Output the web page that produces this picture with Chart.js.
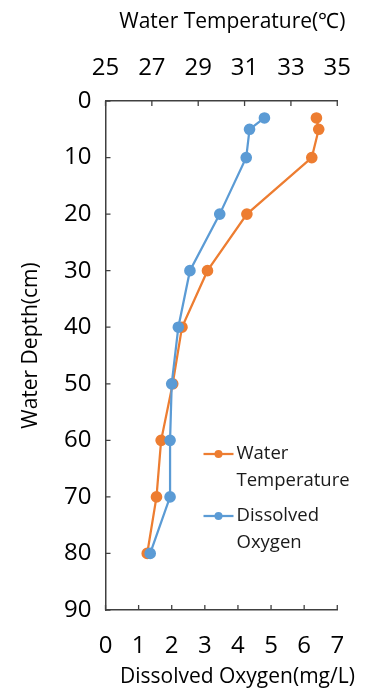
<!DOCTYPE html>
<html>
<head>
<meta charset="utf-8">
<script src="https://cdn.jsdelivr.net/npm/chart.js@4"></script>
<style>
  body { margin: 0; background: #fff; }
  canvas { display: block; }
</style>
</head>
<body>
<canvas id="chart1" width="369" height="688"></canvas>
<script>
// depths (cm) where samples were taken
let depths = [3, 5, 10, 20, 30, 40, 50, 60, 70, 80];
let waterTemp = [34.1, 34.2, 33.9, 31.1, 29.4, 28.3, 27.9, 27.4, 27.2, 26.8];
let dissolvedO2 = [4.8, 4.35, 4.25, 3.45, 2.55, 2.2, 2.0, 1.95, 1.95, 1.35];

let tempTicks = [25, 27, 29, 31, 33, 35];
let doTicks = [0, 1, 2, 3, 4, 5, 6, 7];
let depthTicks = [0, 10, 20, 30, 40, 50, 60, 70, 80, 90];

let topTitle = 'Water Temperature(℃)';
let bottomTitle = 'Dissolved Oxygen(mg/L)';
let leftTitle = 'Water Depth(cm)';

let orange = '#ED7D31';
let blue = '#5B9BD5';
let axisColor = '#404040';
let font = 'Open Sans';

function pairs(xs) {
    return xs.map(function(v, i) { return { x: v, y: depths[i] }; });
}

// tick marks point into the plot area
var innerTicks = {
    id: 'innerTicks',
    afterDraw: function(chart) {
        var ctx = chart.ctx;
        var a = chart.chartArea;
        var len = 5;
        ctx.save();
        ctx.strokeStyle = axisColor;
        ctx.lineWidth = 1.3;
        ctx.beginPath();
        depthTicks.forEach(function(v) {
            var y = chart.scales.y.getPixelForValue(v);
            ctx.moveTo(a.left, y);
            ctx.lineTo(a.left + len, y);
        });
        tempTicks.forEach(function(v) {
            var x = chart.scales.xT.getPixelForValue(v);
            ctx.moveTo(x, a.top);
            ctx.lineTo(x, a.top + len);
        });
        doTicks.forEach(function(v) {
            var x = chart.scales.xB.getPixelForValue(v);
            ctx.moveTo(x, a.bottom);
            ctx.lineTo(x, a.bottom - len);
        });
        ctx.stroke();
        ctx.restore();
    }
};

// axis titles, placed a bit off centre like the excel original
var axisTitles = {
    id: 'axisTitles',
    afterDraw: function(chart) {
        var ctx = chart.ctx;
        var a = chart.chartArea;
        var mid = (a.left + a.right) / 2;
        ctx.save();
        ctx.font = '21px "' + font + '"';
        ctx.fillStyle = '#000';
        ctx.textAlign = 'center';
        ctx.textBaseline = 'alphabetic';
        ctx.fillText(topTitle, mid + 11, 28);
        ctx.fillText(bottomTitle, mid + 16, 683);
        ctx.translate(37, (a.top + a.bottom) / 2 - 10);
        ctx.rotate(-Math.PI / 2);
        ctx.fillText(leftTitle, 0, 0);
        ctx.restore();
    }
};

// legend inside the plot, labels wrapped on two lines
var boxLegend = {
    id: 'boxLegend',
    afterDraw: function(chart) {
        var ctx = chart.ctx;
        var a = chart.chartArea;
        var x0 = a.left + 98;
        var y0 = a.top + 353;
        var rowGap = 62;
        var lineH = 27;
        ctx.save();
        ctx.font = '18.5px "' + font + '"';
        ctx.textBaseline = 'middle';
        ctx.textAlign = 'left';
        [0, 1].forEach(function(i) {
            var ds = chart.data.datasets[i];
            var y = y0 + i * rowGap;
            ctx.strokeStyle = ds.borderColor;
            ctx.lineWidth = 2.25;
            ctx.beginPath();
            ctx.moveTo(x0, y);
            ctx.lineTo(x0 + 30, y);
            ctx.stroke();
            ctx.fillStyle = ds.borderColor;
            ctx.beginPath();
            ctx.arc(x0 + 15, y, 4, 0, Math.PI * 2);
            ctx.fill();
            ctx.fillStyle = '#1a1a1a';
            ds.label.split(' ').forEach(function(w, j) {
                ctx.fillText(w, x0 + 33, y + j * lineH);
            });
        });
        ctx.restore();
    }
};

var ctx = document.getElementById('chart1').getContext('2d');
var data = {
    datasets: [{
        label: 'Water Temperature',
        data: pairs(waterTemp),
        xAxisID: 'xT',
        yAxisID: 'y',
        borderColor: orange,
        backgroundColor: orange,
        borderWidth: 2.25,
        pointRadius: 4.7,
        pointHoverRadius: 4.7,
        tension: 0,
        order: 2
    }, {
        label: 'Dissolved Oxygen',
        data: pairs(dissolvedO2),
        xAxisID: 'xB',
        yAxisID: 'y',
        borderColor: blue,
        backgroundColor: blue,
        borderWidth: 2.25,
        pointRadius: 4.7,
        pointHoverRadius: 4.7,
        tension: 0,
        order: 1
    }]
};

var tickFont = { family: font, size: 24 };

var options = {
    responsive: false,
    animation: false,
    layout: { padding: { left: 0, right: 22.5, top: 0, bottom: 0 } },
    plugins: {
        legend: { display: false },
        tooltip: { enabled: false }
    },
    scales: {
        y: {
            type: 'linear',
            position: 'left',
            reverse: true,
            min: 0,
            max: 90,
            afterBuildTicks: function(s) { s.ticks = depthTicks.map(function(v) { return { value: v }; }); },
            ticks: { font: tickFont, color: '#000', padding: 14 },
            grid: { display: false, drawTicks: false },
            border: { display: true, color: axisColor, width: 1.5 },
            afterFit: function(s) { s.width = 105.5; }
        },
        xT: {
            type: 'linear',
            position: 'top',
            min: 25,
            max: 35,
            afterBuildTicks: function(s) { s.ticks = tempTicks.map(function(v) { return { value: v }; }); },
            ticks: { font: tickFont, color: '#000', padding: 18, maxRotation: 0 },
            grid: { display: false, drawTicks: false },
            border: { display: true, color: axisColor, width: 1.5 },
            afterFit: function(s) { s.height = 101; }
        },
        xB: {
            type: 'linear',
            position: 'bottom',
            min: 0,
            max: 7,
            afterBuildTicks: function(s) { s.ticks = doTicks.map(function(v) { return { value: v }; }); },
            ticks: { font: tickFont, color: '#000', padding: 22, maxRotation: 0 },
            grid: { display: false, drawTicks: false },
            border: { display: true, color: axisColor, width: 1.5 },
            afterFit: function(s) { s.height = 78; }
        }
    }
};

var chart = new Chart(ctx, {
    type: 'line',
    data: data,
    options: options,
    plugins: [innerTicks, axisTitles, boxLegend]
});
</script>
</body>
</html>
